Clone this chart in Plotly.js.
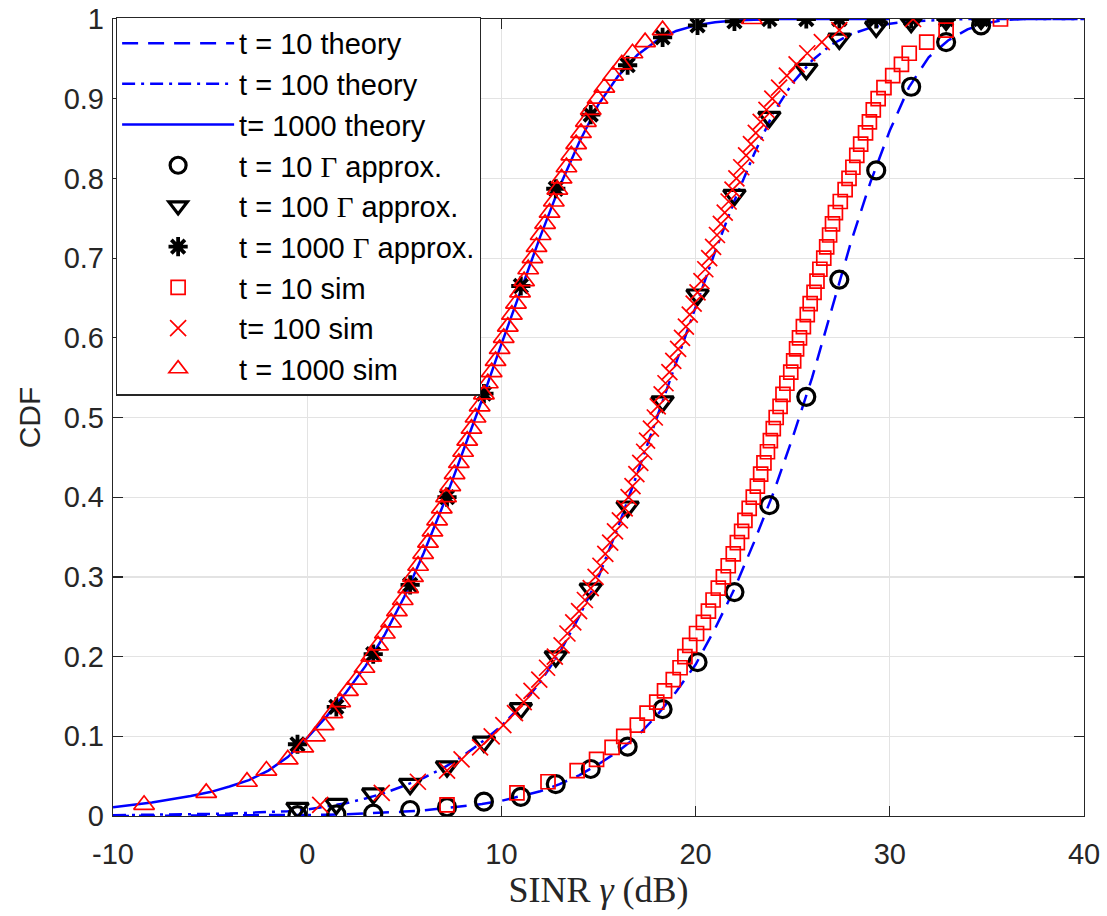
<!DOCTYPE html>
<html>
<head>
<meta charset="utf-8">
<script src="https://cdn.plot.ly/plotly-3.0.1.min.js"></script>
<style>html,body{margin:0;padding:0;background:#fff;}#chart{width:1107px;height:916px;}</style>
</head>
<body>
<div id="chart"></div>
<script>
// ---- theory curves ----
const theoryX = [-10,-9,-8,-7,-6,-5,-4,-3,-2,-1,0,1,2,3,4,5,6,7,8,9,10,11,12,13,14,15,16,17,18,19,20,21,22,23,24,25,26,27,28,29,30,31,32,33,34,35,36,37,38,39,40];
const theory10 = [0,0.0001,0.0001,0.0002,0.0002,0.0003,0.0004,0.0005,0.0006,0.0008,0.001,0.0015,0.002,0.003,0.004,0.0055,0.007,0.0095,0.012,0.015,0.019,0.025,0.031,0.04,0.051,0.065,0.081,0.1,0.126,0.156,0.19,0.235,0.285,0.343,0.405,0.475,0.55,0.635,0.72,0.795,0.86,0.915,0.952,0.973,0.987,0.995,0.999,1,1,1,1];
const theory100 = [0.001,0.0012,0.0015,0.0017,0.002,0.0025,0.003,0.004,0.005,0.006,0.008,0.012,0.016,0.022,0.029,0.038,0.048,0.06,0.075,0.093,0.113,0.138,0.168,0.205,0.25,0.3,0.362,0.43,0.5,0.57,0.64,0.708,0.772,0.83,0.882,0.92,0.948,0.968,0.981,0.989,0.994,0.997,0.998,0.999,1,1,1,1,1,1,1];
const theory1000 = [0.011,0.014,0.017,0.021,0.025,0.03,0.037,0.045,0.057,0.074,0.098,0.125,0.155,0.188,0.228,0.275,0.33,0.39,0.455,0.522,0.592,0.66,0.727,0.79,0.845,0.893,0.928,0.955,0.973,0.985,0.992,0.996,0.998,0.999,1,1,1,1,1,1,1];

// ---- Gamma approximation markers ----
const gammaX = [-0.5,1.5,3.4,5.3,7.2,9.1,11.0,12.8,14.6,16.5,18.3,20.1,22.0,23.8,25.7,27.4,29.3,31.1,32.9,34.7];
const gamma10 = [0.001,0.002,0.003,0.0075,0.011,0.018,0.024,0.04,0.059,0.087,0.134,0.193,0.281,0.39,0.526,0.673,0.81,0.915,0.971,0.992];
const gamma100 = [0.01,0.015,0.028,0.04,0.062,0.093,0.135,0.2,0.285,0.388,0.52,0.654,0.779,0.877,0.937,0.975,0.99,0.996,0.999,1.0];
const gamma1000 = [0.09,0.137,0.203,0.29,0.4,0.53,0.665,0.787,0.88,0.942,0.977,0.992,0.997,1,1,1,1,1,1,1];

// ---- simulation markers (empirical CDF levels) ----
const simCdf = [0.014,0.029,0.043,0.057,0.071,0.086,0.100,0.114,0.129,0.143,0.157,0.171,0.186,0.200,0.214,0.229,0.243,0.257,0.271,0.286,0.300,0.314,0.329,0.343,0.357,0.371,0.386,0.400,0.414,0.429,0.443,0.457,0.471,0.486,0.500,0.514,0.529,0.543,0.557,0.571,0.586,0.600,0.614,0.629,0.643,0.657,0.671,0.686,0.700,0.714,0.729,0.743,0.757,0.771,0.786,0.800,0.814,0.829,0.843,0.857,0.871,0.886,0.900,0.914,0.929,0.943,0.957,0.971,0.986,1.000];
const sim10X = [7.2,10.8,12.4,13.9,14.9,15.7,16.3,17.0,17.5,18.0,18.4,18.85,19.2,19.45,19.7,20.05,20.4,20.66,20.9,21.17,21.43,21.68,21.94,22.15,22.37,22.54,22.76,22.97,23.18,23.35,23.52,23.7,23.85,24.0,24.15,24.35,24.5,24.7,24.9,25.05,25.2,25.35,25.55,25.75,25.9,26.1,26.25,26.4,26.6,26.75,26.9,27.05,27.2,27.45,27.7,27.9,28.1,28.3,28.5,28.75,28.95,29.15,29.4,29.7,30.15,30.6,31.0,31.9,32.9,35.7];
const sim100X = [0.67,3.84,5.7,7.2,7.95,8.9,9.5,10.1,10.7,11.15,11.55,11.95,12.35,12.75,13.1,13.4,13.7,14.0,14.3,14.6,14.85,15.1,15.35,15.6,15.85,16.1,16.35,16.55,16.75,16.95,17.15,17.35,17.5,17.7,17.9,18.05,18.25,18.45,18.65,18.85,19.1,19.3,19.5,19.7,19.9,20.1,20.3,20.5,20.7,20.9,21.1,21.3,21.5,21.7,21.9,22.1,22.35,22.6,22.85,23.1,23.35,23.65,23.95,24.3,24.7,25.2,25.75,26.5,27.4,31.2];
const sim1000X = [-8.4,-5.2,-3.1,-2.1,-1.0,-0.2,0.4,0.85,1.3,1.7,2.1,2.55,2.95,3.3,3.65,4.0,4.32,4.62,4.92,5.2,5.45,5.71,5.97,6.22,6.45,6.69,6.93,7.15,7.37,7.59,7.81,8.03,8.24,8.46,8.67,8.88,9.1,9.3,9.5,9.7,9.91,10.12,10.33,10.54,10.75,10.96,11.17,11.38,11.6,11.81,12.02,12.25,12.48,12.7,12.88,13.1,13.35,13.6,13.85,14.1,14.35,14.6,14.95,15.3,15.75,16.2,16.75,17.4,18.3,22.9];

const xTicks = [-10,0,10,20,30,40];
const yTicks = [0,0.1,0.2,0.3,0.4,0.5,0.6,0.7,0.8,0.9,1];
const yTickText = ['0','0.1','0.2','0.3','0.4','0.5','0.6','0.7','0.8','0.9','1'];

const G = '<span style="font-family:\'Liberation Serif\'">Γ</span>';
const blue = '#0000ff', red = '#ff0000', black = '#000000';

const traces = [
  {x: theoryX, y: theory10, mode: 'lines', name: 't = 10 theory', line: {color: blue, width: 2.5, dash: '16px,10px'}},
  {x: theoryX, y: theory100, mode: 'lines', name: 't = 100 theory', line: {color: blue, width: 2.5, dash: '13px,6px,3px,6px'}},
  {x: theoryX, y: theory1000, mode: 'lines', name: 't= 1000 theory', line: {color: blue, width: 2.5}},
  {x: gammaX, y: gamma10, mode: 'markers', name: 't = 10 ' + G + ' approx.', marker: {symbol: 'circle-open', size: 17, color: black, line: {width: 3.2, color: black}}},
  {x: gammaX, y: gamma100, mode: 'markers', name: 't = 100 ' + G + ' approx.', marker: {symbol: 'triangle-down-open', size: 19, color: black, line: {width: 3.2, color: black}}},
  {x: gammaX, y: gamma1000, mode: 'markers', name: 't = 1000 ' + G + ' approx.', marker: {symbol: 'asterisk-open', size: 16, color: black, line: {width: 3.8, color: black}}},
  {x: sim10X, y: simCdf, mode: 'markers', name: 't = 10 sim', marker: {symbol: 'square-open', size: 14, color: red, line: {width: 1.7, color: red}}},
  {x: sim100X, y: simCdf, mode: 'markers', name: 't= 100 sim', marker: {symbol: 'x-thin-open', size: 16, color: red, line: {width: 1.7, color: red}}},
  {x: sim1000X, y: simCdf, mode: 'markers', name: 't = 1000 sim', marker: {symbol: 'triangle-up-open', size: 18, color: red, line: {width: 1.7, color: red}}}
];
traces.forEach((t, i) => { t.legendgroup = 'g' + i; t.hoverinfo = 'skip'; });

const axisCommon = {
  showline: true, mirror: 'ticks', linecolor: '#262626', linewidth: 1.2,
  ticks: 'inside', ticklen: 10, tickwidth: 1.2, tickcolor: '#262626',
  showgrid: true, gridcolor: '#e3e3e3', gridwidth: 1.2, zeroline: false,
  tickfont: {family: 'Liberation Sans, Arial, sans-serif', size: 29, color: '#262626'}
};

const layout = {
  width: 1107, height: 916,
  margin: {l: 113, r: 23, t: 19, b: 100},
  paper_bgcolor: '#ffffff', plot_bgcolor: '#ffffff',
  showlegend: true,
  xaxis: Object.assign({}, axisCommon, {
    range: [-10, 40], tickvals: xTicks, ticktext: xTicks.map(String),
    ticklabelstandoff: 12, automargin: false,
    title: {text: 'SINR <i>γ</i> (dB)', font: {family: 'Liberation Serif, Times New Roman, serif', size: 36, color: '#262626'}, standoff: 6}
  }),
  yaxis: Object.assign({}, axisCommon, {
    range: [0, 1], tickvals: yTicks, ticktext: yTickText, automargin: false,
    ticklabelstandoff: 2,
    title: {text: 'CDF', font: {family: 'Liberation Sans, Arial, sans-serif', size: 30, color: '#262626'}, standoff: 14}
  }),
  legend: {
    x: 0.003, y: 1.003, xanchor: 'left', yanchor: 'top',
    bgcolor: '#ffffff', bordercolor: '#262626', borderwidth: 1.2,
    font: {family: 'Liberation Sans, Arial, sans-serif', size: 29, color: '#000000'},
    itemwidth: 112, tracegroupgap: 2, traceorder: 'normal'
  }
};

Plotly.newPlot('chart', traces, layout, {staticPlot: true, displayModeBar: false});
</script>
</body>
</html>
